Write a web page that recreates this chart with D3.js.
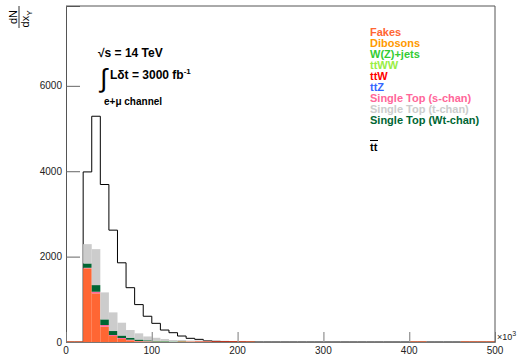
<!DOCTYPE html>
<html><head><meta charset="utf-8">
<script src="https://cdn.jsdelivr.net/npm/d3@7"></script>
<style>body{margin:0;background:#fff}svg{display:block;font-family:"Liberation Sans",Arial,sans-serif}</style>
</head><body>
<svg id="c" width="519" height="363"></svg>
<script>
// bin lower edges, in units of 10^3 (width 10)
const binEdges = d3.range(0, 500, 10);
const xTicks = [0, 100, 200, 300, 400, 500];
const yTicks = [0, 2000, 4000, 6000];

// per-bin values (index i -> bin [10*i, 10*i+10))
const ttbar  = [0,0,3984,5288,3689,2620,1855,1272,876,603,437,280,218,140,86,62,31,16,8,5,3,3];
const fakes  = [15,15,1724,1140,358,140,70,40,16,8,5,3,0,15,15,15,15,15,15,15,15,15,0,0,0,0,0,0,0,0,0,0,0,0,0,0,0,0,0,0,15,15,0,0,0,0,15,15,15,15];
const dibosons = [];
const wjets  = [0,0,0,0,0,0,0,0,0,5,8,8,6,4];
const ttww   = [];
const ttw    = [0,0,0,0,0,0,0,0,0,0,0,0,0,0,0,5,6,8,8,8,5];
const ttz    = [];
const schan  = [0,0,14,37,40,24,24,14,7,8,4,2];
const wtchan = [0,0,102,156,132,93,58,47,35,19,12,8,5,3];
const tchan  = [0,0,452,842,632,437,300,180,145,90,70,50,35,25,18,15,12,8,5];

const legendNames  = ["Fakes","Dibosons","W(Z)+jets","ttWW","ttW","ttZ","Single Top (s-chan)","Single Top (t-chan)","Single Top (Wt-chan)"];
const legendColors = ["#ff6633","#ff9900","#33cc33","#99ee44","#ff0000","#3366ff","#ff6699","#cccccc","#006633"];

// stacking order, bottom to top
const stackKeys = ["fakes","dibosons","wjets","ttww","ttw","ttz","schan","wtchan","tchan"];
const stackColors = {fakes:"#ff6633",dibosons:"#ff9900",wjets:"#33cc33",ttww:"#99ee44",ttw:"#cc0000",ttz:"#3366ff",schan:"#ff6699",wtchan:"#006633",tchan:"#cccccc"};
const series = {fakes,dibosons,wjets,ttww,ttw,ttz,schan,wtchan,tchan};

const svg = d3.select("#c");
const x = d3.scaleLinear().domain([0,500]).range([66,495]);
const y = d3.scaleLinear().domain([0,7870]).range([342,6]);

const rows = binEdges.map((e,i)=>{
  const r = {edge:e};
  stackKeys.forEach(k=>{ r[k] = series[k][i] || 0; });
  return r;
});

// ttbar outline (drawn first; fills cover its lower part)
const linePts = binEdges.map((e,i)=>[e, ttbar[i]||0]);
linePts.push([500, 0]);
svg.append("path")
  .attr("d", d3.line().x(d=>x(d[0])).y(d=>y(d[1])).curve(d3.curveStepAfter)(linePts))
  .attr("fill","none").attr("stroke","#000").attr("stroke-width",1);

// stacked fills
const stacked = d3.stack().keys(stackKeys)(rows);
stacked.forEach(layer=>{
  svg.append("g").selectAll("rect").data(layer.filter(d=>d[1]-d[0]>0)).join("rect")
    .attr("x", d=>x(d.data.edge))
    .attr("width", d=>x(d.data.edge+10)-x(d.data.edge))
    .attr("y", d=>y(d[1]))
    .attr("height", d=>y(d[0])-y(d[1]))
    .attr("fill", stackColors[layer.key]);
});

// frame
const axCol = "#555";
svg.append("line").attr("x1",x(0)).attr("x2",x(500)).attr("y1",y.range()[1]).attr("y2",y.range()[1]).attr("stroke",axCol);
svg.append("line").attr("x1",x(500)).attr("x2",x(500)).attr("y1",y.range()[1]).attr("y2",342).attr("stroke",axCol);

// y axis
const ya = svg.append("g").attr("transform",`translate(${x(0)},0)`)
  .call(d3.axisRight(y).tickValues(yTicks).tickSize(14).tickFormat(""));
ya.select(".domain").attr("stroke",axCol);
ya.selectAll(".tick line").attr("stroke","#666");
svg.append("g").selectAll("text").data(yTicks).join("text")
  .attr("x", 62).attr("y", d=>y(d)+3.5).attr("text-anchor","end")
  .attr("font-size",10).attr("fill","#222").text(d=>d);

// x axis
const xa = svg.append("g").attr("transform",`translate(0,342)`)
  .call(d3.axisTop(x).tickValues(xTicks.filter(t=>t>0&&t<500)).tickSize(10).tickFormat(""));
xa.select(".domain").attr("stroke","#777");
xa.selectAll(".tick line").attr("stroke","#999").attr("stroke-width",1.3);
svg.append("g").selectAll("text").data(xTicks).join("text")
  .attr("x", d=>x(d)).attr("y", 354).attr("text-anchor","middle")
  .attr("font-size",10).attr("fill","#222").text(d=>d);
const ex = svg.append("text").attr("x",497).attr("y",340).attr("font-size",9).attr("fill","#222");
ex.append("tspan").text("×10");
ex.append("tspan").attr("dy",-4).attr("font-size",7).text("3");

// y title: dN / dx_Y rotated
const yt = svg.append("g").attr("transform","translate(19,17) rotate(-90)");
yt.append("text").attr("x",0).attr("y",-2).attr("text-anchor","middle").attr("font-size",11).text("dN");
yt.append("line").attr("x1",-11).attr("x2",11).attr("y1",0).attr("y2",0).attr("stroke","#000").attr("stroke-width",0.8);
const den = yt.append("text").attr("x",-2).attr("y",10).attr("text-anchor","middle").attr("font-size",11);
den.append("tspan").text("dx");
den.append("tspan").attr("dy",3).attr("font-size",8).text("Y");

// annotations
const ann = svg.append("g").attr("font-weight","bold").attr("fill","#000");
ann.append("text").attr("x",98).attr("y",57).attr("font-size",12).text("\u221As = 14 TeV");
ann.append("text").attr("x",100).attr("y",87).attr("font-size",26).attr("font-weight","normal").text("\u222B");
const lum = ann.append("text").attr("x",110).attr("y",79).attr("font-size",12);
lum.append("tspan").text("L\u03B4t = 3000 fb");
lum.append("tspan").attr("dy",-5).attr("font-size",8).text("-1");
ann.append("text").attr("x",104).attr("y",105).attr("font-size",10).text("e+\u03BC channel");

// legend
const lg = svg.append("g").attr("font-weight","bold").attr("font-size",11);
lg.selectAll("text").data(legendNames).join("text")
  .attr("x",370).attr("y",(d,i)=>35.5+i*11.1)
  .attr("fill",(d,i)=>legendColors[i]).text(d=>d);
const tt = lg.append("text").attr("x",370).attr("y",151).attr("fill","#000").text("tt");
lg.append("line").attr("x1",370).attr("x2",378).attr("y1",140.5).attr("y2",140.5).attr("stroke","#000").attr("stroke-width",1);
</script>
</body></html>
